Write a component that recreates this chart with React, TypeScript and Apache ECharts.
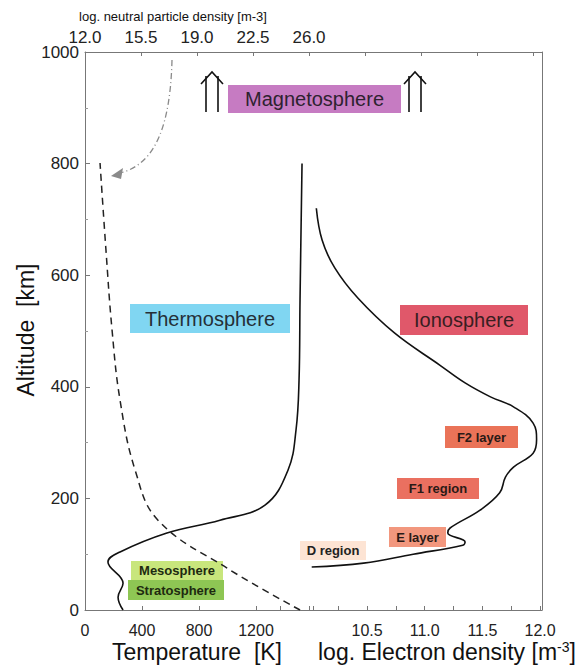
import React, { useEffect, useRef } from "react";
import * as echarts from "echarts";

// Temperature profile [K] vs altitude [km]
const tempK = [267, 232, 267, 161, 246, 575, 947, 1263, 1425, 1481, 1502, 1509, 1523];
const tempAlt = [0, 23, 48, 86, 104, 138, 161, 188, 251, 323, 412, 556, 800];

// log neutral particle density [m-3] vs altitude
const neutralLog = [25.44, 20.88, 16.56, 15.13, 14.19, 13.69, 13.31, 12.94];
const neutralAlt = [0, 75, 161, 251, 376, 502, 645, 801];

// log electron density [m-3] vs altitude
const electronLog = [10.02, 10.47, 10.9, 11.33, 11.35, 11.2, 11.22, 11.48, 11.65, 11.7, 11.77, 11.94, 11.97, 11.94, 11.77, 11.57, 11.35, 11.13, 10.74, 10.42, 10.22, 10.11, 10.06];
const electronAlt = [77, 84, 100, 116, 122, 138, 147, 179, 210, 238, 256, 281, 305, 335, 364, 382, 407, 439, 496, 559, 613, 663, 720];

// tick labels
const altTicks = [0, 200, 400, 600, 800, 1000];
const tempLabels = [0, 400, 800, 1200];
const tempTicks = [400, 800, 1200, 1600];
const electronLabels = [10.5, 11.0, 11.5, 12.0];
const electronTicks = [9.75, 10.0, 10.25, 10.5, 10.75, 11.0, 11.25, 11.5, 11.75, 12.0];
const neutralLabels = [12.0, 15.5, 19.0, 22.5, 26.0];
const neutralTicks = [15.5, 19.0, 22.5, 26.0, 29.5, 33.0, 36.5, 40.0];

const FONT = "Liberation Sans, Arial, sans-serif";

export default function App() {
  const ref = useRef<HTMLDivElement>(null);
  useEffect(() => {
    if (!ref.current) return;
    const chart = echarts.init(ref.current, undefined, { renderer: "svg" });
    const axisLine = { show: true, lineStyle: { color: "#777", width: 1 } };
    const zip = (xs: number[], ys: number[]) => xs.map((x, i) => [x, ys[i]]);

    const box = (x: number, y: number, w: number, h: number, fill: string, text: string, fontSize: number, bold: boolean, color = "#222") => [
      { type: "rect", shape: { x, y, width: w, height: h }, style: { fill } },
      {
        type: "text",
        x: x + w / 2,
        y: y + h / 2,
        style: { text, fontSize, fontWeight: bold ? "bold" : "normal", fontFamily: FONT, fill: color, align: "center", verticalAlign: "middle" },
      },
    ];

    const dblArrow = (cx: number) => [
      { type: "line", shape: { x1: cx - 6, y1: 112, x2: cx - 6, y2: 76 }, style: { stroke: "#111", lineWidth: 1.6 } },
      { type: "line", shape: { x1: cx + 6, y1: 112, x2: cx + 6, y2: 76 }, style: { stroke: "#111", lineWidth: 1.6 } },
      { type: "polyline", shape: { points: [[cx - 11, 84], [cx, 72], [cx + 11, 84]] }, style: { stroke: "#111", lineWidth: 1.6, fill: "none" } },
    ];

    chart.setOption({
      animation: false,
      backgroundColor: "#fff",
      grid: { left: 85, top: 52, right: 39, bottom: 61 },
      xAxis: [
        {
          type: "value",
          position: "bottom",
          min: 0,
          max: 3207,
          axisLine,
          splitLine: { show: false },
          axisTick: { show: true, inside: true, length: 4, customValues: tempTicks, lineStyle: { color: "#777" } },
          axisLabel: {
            customValues: tempLabels,
            formatter: (v: number) => String(v),
            fontSize: 16,
            color: "#222",
            fontFamily: FONT,
            margin: 12,
          },
        },
        {
          type: "value",
          position: "bottom",
          min: 8.054,
          max: 12.017,
          axisLine: { show: false },
          splitLine: { show: false },
          axisTick: { show: true, inside: true, length: 4, customValues: electronTicks, lineStyle: { color: "#777" } },
          axisLabel: {
            customValues: electronLabels,
            formatter: (v: number) => v.toFixed(1),
            fontSize: 16,
            color: "#222",
            fontFamily: FONT,
            margin: 12,
          },
        },
        {
          type: "value",
          position: "top",
          min: 12,
          max: 40.56,
          axisLine,
          splitLine: { show: false },
          axisTick: { show: true, inside: true, length: 4, customValues: neutralTicks, lineStyle: { color: "#777" } },
          axisLabel: {
            customValues: neutralLabels,
            formatter: (v: number) => v.toFixed(1),
            fontSize: 17,
            color: "#222",
            fontFamily: FONT,
            margin: 6,
          },
        },
      ],
      yAxis: [
        {
          type: "value",
          min: 0,
          max: 1000,
          interval: 200,
          axisLine,
          splitLine: { show: false },
          axisTick: { show: true, inside: true, length: 5, lineStyle: { color: "#777" } },
          minorTick: { show: true, splitNumber: 2, length: 3, lineStyle: { color: "#999" } },
          axisLabel: {
            customValues: altTicks,
            formatter: (v: number) => String(v),
            fontSize: 17,
            color: "#222",
            fontFamily: FONT,
            margin: 6,
          },
        },
        {
          type: "value",
          position: "right",
          min: 0,
          max: 1000,
          axisLine,
          splitLine: { show: false },
          axisTick: { show: false },
          axisLabel: { show: false },
        },
      ],
      series: [
        {
          type: "line",
          name: "Temperature",
          xAxisIndex: 0,
          yAxisIndex: 0,
          data: zip(tempK, tempAlt),
          smooth: 0.4,
          showSymbol: false,
          lineStyle: { color: "#111", width: 1.6 },
        },
        {
          type: "line",
          name: "Neutral density",
          xAxisIndex: 2,
          yAxisIndex: 0,
          data: zip(neutralLog, neutralAlt),
          smooth: 0.4,
          showSymbol: false,
          lineStyle: { color: "#222", width: 1.5, type: [7, 5] },
        },
        {
          type: "line",
          name: "Electron density",
          xAxisIndex: 1,
          yAxisIndex: 0,
          data: zip(electronLog, electronAlt),
          smooth: 0.4,
          showSymbol: false,
          lineStyle: { color: "#111", width: 1.6 },
        },
      ],
      graphic: [
        {
          type: "text",
          x: 173,
          y: 16,
          style: { text: "log. neutral particle density [m-3]", fontSize: 13, fontFamily: FONT, fill: "#111", align: "center", verticalAlign: "middle" },
        },
        {
          type: "text",
          x: 26,
          y: 330,
          rotation: Math.PI / 2,
          style: { text: "Altitude  [km]", fontSize: 23, fontFamily: FONT, fill: "#111", align: "center", verticalAlign: "middle" },
        },
        {
          type: "text",
          x: 197,
          y: 652,
          style: { text: "Temperature  [K]", fontSize: 23, fontFamily: FONT, fill: "#111", align: "center", verticalAlign: "middle" },
        },
        {
          type: "text",
          x: 318,
          y: 652,
          style: {
            text: "log. Electron density [m{s|-3}]",
            fontSize: 23,
            fontFamily: FONT,
            fill: "#111",
            align: "left",
            verticalAlign: "middle",
            rich: { s: { fontSize: 14, fontFamily: FONT, fill: "#111", verticalAlign: "top", padding: [0, 0, 10, 0] } },
          },
        },
        {
          type: "bezierCurve",
          shape: { x1: 172, y1: 60, cpx1: 170, cpy1: 140, cpx2: 148, cpy2: 166, x2: 120, y2: 173 },
          style: { stroke: "#8a8a8a", lineWidth: 1.3, lineDash: [6, 3, 1, 3], fill: "none" },
        },
        { type: "polygon", shape: { points: [[111, 176], [123, 168], [121, 179]] }, style: { fill: "#8a8a8a" } },
        ...dblArrow(212),
        ...dblArrow(415),
        ...box(228, 85, 173, 28, "#c67bc2", "Magnetosphere", 20, false, "#2e2230"),
        ...box(130, 304, 160, 29, "#80d6f2", "Thermosphere", 20, false, "#253038"),
        ...box(400, 305, 128, 30, "#e0586a", "Ionosphere", 20, false, "#3a1e22"),
        ...box(445, 426, 73, 22, "#ea7358", "F2 layer", 13, true, "#2a1a16"),
        ...box(397, 478, 82, 21, "#ea7060", "F1 region", 13, true, "#2a1a16"),
        ...box(389, 527, 57, 20, "#f2977e", "E layer", 13, true, "#2a1a16"),
        ...box(300, 541, 66, 19, "#fde4d4", "D region", 13, true, "#222"),
        ...box(131, 561, 92, 19, "#c8e67c", "Mesosphere", 13, true, "#1e2a10"),
        ...box(128, 580, 96, 20, "#8ec654", "Stratosphere", 13, true, "#1e2a10"),
      ],
    });
    return () => chart.dispose();
  }, []);
  return <div ref={ref} style={{ position: "absolute", left: 0, top: 0, width: 581, height: 671, background: "#fff" }} />;
}
